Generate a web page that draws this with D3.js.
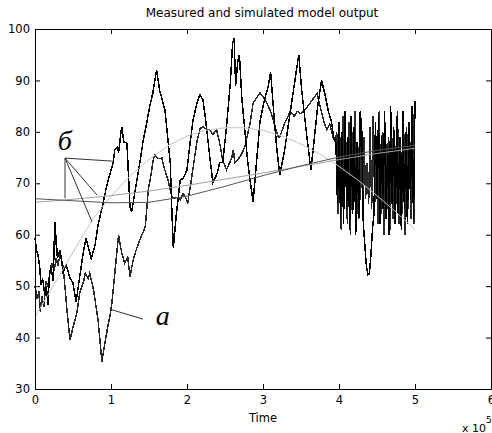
<!DOCTYPE html>
<html>
<head>
<meta charset="utf-8">
<script src="https://cdn.jsdelivr.net/npm/d3@7"></script>
<style>
body { margin: 0; background: #fff; }
</style>
</head>
<body>
<svg id="main" width="492" height="433"></svg>
<script>
// time in units of 1e5

// measured signal, black (big swings)
var measured = [
 [0,59.4],[0.02,57],[0.04,56],[0.06,54],[0.08,50.2],[0.1,51.5],[0.13,48.3],[0.15,50],[0.17,46.3],[0.19,52.2],
 [0.21,53.7],[0.24,51],[0.26,62.5],[0.27,58],[0.28,60],[0.29,56],[0.3,55.7],[0.33,57],[0.35,55],[0.37,52.7],
 [0.41,54.1],[0.46,51.6],[0.5,50.6],[0.54,46.9],[0.59,52],[0.63,56],[0.67,59.3],[0.72,56.6],[0.74,55.4],[0.79,58],
 [0.83,61.9],[0.9,66.4],[0.94,69.3],[0.99,72],[1.03,74.1],[1.05,76.5],[1.08,77],[1.1,76],[1.14,81],[1.17,78],
 [1.21,77.8],[1.25,65.4],[1.27,64.4],[1.3,67],[1.34,70.6],[1.38,74],[1.42,78],[1.47,81.7],[1.51,85],[1.55,87.5],
 [1.6,92],[1.64,88.1],[1.71,84.2],[1.75,78.4],[1.78,74],[1.8,65],[1.82,57.5],[1.86,64],[1.91,70.6],[1.95,71],
 [2.0,72.6],[2.04,77.8],[2.08,82.3],[2.13,85.6],[2.17,87.2],[2.21,86.2],[2.24,82.9],[2.26,80.4],[2.3,75.1],[2.34,70.2],
 [2.4,72],[2.43,74],[2.47,74],[2.52,81],[2.57,89.5],[2.6,97.2],[2.62,98.2],[2.64,89],[2.67,94],[2.69,95],
 [2.72,86.8],[2.76,80.4],[2.8,74],[2.83,70.6],[2.87,66.4],[2.92,75],[2.96,82],[3.01,85.6],[3.07,89],[3.1,91.7],
 [3.14,84],[3.18,77],[3.22,71.6],[3.28,76],[3.33,81],[3.38,86],[3.43,91],[3.47,95],[3.51,88],[3.57,80],
 [3.63,72.6],[3.67,78],[3.72,85],[3.77,90],[3.82,87],[3.86,84],[3.9,82],[3.93,79],
 [3.96,78],[3.98,66],[4.0,82],[4.02,63],[4.04,80],[4.06,62],[4.08,84],[4.1,65],[4.12,79],[4.14,61],
 [4.16,83],[4.18,64],[4.2,81],[4.22,60],[4.24,78],[4.26,63],[4.28,84],[4.3,80],[4.32,62],[4.34,58],
 [4.36,54],[4.38,52.2],[4.4,52.4],[4.42,56],[4.44,61],[4.46,64],[4.48,82],[4.5,67],[4.52,83],[4.54,62],
 [4.56,79],[4.58,65],[4.6,84],[4.62,63],[4.64,77],[4.66,60],[4.68,85],[4.7,66],[4.72,81],[4.74,62],
 [4.76,83],[4.78,64],[4.8,79],[4.82,61],[4.84,84],[4.86,65],[4.88,80],[4.9,62],[4.92,82],[4.94,67],
 [4.96,85],[4.98,63],[5.0,86]
];

// second noisy signal, dark grey (the one marked "а")
var measured2 = [
 [0,50],[0.03,47.5],[0.05,49],[0.07,45],[0.09,48],[0.12,46],[0.14,51],[0.17,50],[0.2,53],[0.22,54.5],
 [0.25,53],[0.28,55.5],[0.3,54],[0.33,56],[0.35,55],[0.37,53.7],[0.39,50.6],[0.42,45.4],[0.46,39.5],[0.5,42],
 [0.55,44.8],[0.59,48.7],[0.64,50.9],[0.66,52.5],[0.7,51.5],[0.72,52.5],[0.77,49.3],[0.83,43.4],[0.88,35.3],[0.91,38],
 [0.95,41.5],[0.99,44.5],[1.01,46.5],[1.04,51],[1.07,55.5],[1.1,60],[1.14,56.5],[1.18,54.5],[1.22,55.7],[1.25,51.8],
 [1.29,55],[1.33,57],[1.38,59],[1.45,61.5],[1.47,64.8],[1.49,68.7],[1.53,72],[1.56,74.9],[1.58,75.5],[1.62,74.8],
 [1.67,74.9],[1.7,73],[1.75,70.6],[1.8,67.5],[1.84,67],[1.87,67.3],[1.91,66.8],[1.95,68],[1.99,67],[2.01,66.2],
 [2.05,70],[2.09,74],[2.13,78],[2.17,80.6],[2.21,81],[2.26,80.5],[2.3,80.4],[2.34,79.5],[2.39,80.4],[2.43,77.8],
 [2.47,74.5],[2.52,72.6],[2.59,75],[2.61,76.5],[2.63,74],[2.67,74.6],[2.71,75.5],[2.76,77],[2.83,81.7],[2.87,85.6],
 [2.96,87.6],[3.03,86.2],[3.07,85],[3.11,83.6],[3.16,81],[3.2,79],[3.22,79],[3.28,81.5],[3.36,84],[3.41,83],
 [3.45,84],[3.5,83.5],[3.58,84.8],[3.64,86],[3.71,87.5],[3.75,85],[3.8,82],[3.84,80.4],[3.88,81.5],[3.92,79],[3.95,78],
 [3.97,80],[3.99,64],[4.01,79],[4.03,61],[4.05,83],[4.07,66],[4.09,78],[4.11,62],[4.13,82],[4.15,60],
 [4.17,80],[4.19,65],[4.21,84],[4.23,61],[4.25,77],[4.27,64],[4.29,82],[4.31,66],[4.33,79],[4.35,67],
 [4.37,74],[4.39,66],[4.41,81],[4.43,65],[4.45,83],[4.47,66],[4.49,78],[4.51,62],[4.53,84],[4.55,64],
 [4.57,80],[4.59,60],[4.61,82],[4.63,65],[4.65,79],[4.67,61],[4.69,83],[4.71,63],[4.73,80],[4.75,66],
 [4.77,84],[4.79,62],[4.81,78],[4.83,64],[4.85,82],[4.87,60],[4.89,81],[4.91,65],[4.93,79],[4.95,63],
 [4.97,84],[4.99,62]
];

// simulated model outputs (smooth)
var simArc = [[0,44],[0.25,50.3],[0.5,56.6],[0.76,63],[1.0,67.5],[1.25,71.4],[1.5,74.6],[1.75,77.3],[2.0,79.2],[2.25,80.3],
 [2.5,80.8],[2.75,80.8],[3.0,80.3],[3.25,79.2],[3.5,77.6],[3.75,75.7],[4.0,73.3],[4.25,70.6],[4.5,67.6],[4.75,64.4],[5.0,61]];
var simDark = [[0,67],[0.5,66.6],[1.0,66.2],[1.5,66.3],[2.0,67.5],[2.5,69.4],[3.0,71.5],[3.5,73.4],[4.0,75.1],[4.5,76.4],[5.0,77.4]];
var simMid = [[0,66.3],[0.5,66.9],[1.0,67.6],[1.5,68.5],[2.0,69.6],[2.5,70.8],[3.0,72],[3.5,73.3],[4.0,74.6],[4.5,75.8],[5.0,76.8]];

var xTicks = [0,1,2,3,4,5,6];
var yTicks = [30,40,50,60,70,80,90,100];

var titleText = "Measured and simulated model output";
var xLabel = "Time";

// annotation anchors (data units)
var labelB = {text: "б", at: [0.30, 76.5], from: [0.395, 74.9],
  to: [[1.026, 74.3], [0.816, 67.7], [0.75, 62.5], [0.395, 67.1]]};
var labelA = {text: "а", at: [1.59, 42.5], from: [1.42, 43.6], to: [[1.013, 45.4]]};

window.onload = function() {
	var svg = d3.select("#main");
	var x = d3.scaleLinear().domain([0, 6]).range([35, 491]);
	var y = d3.scaleLinear().domain([30, 100]).range([389, 29]);
	var sans = "DejaVu Sans, sans-serif";

	svg.append("rect").attr("width", 492).attr("height", 433).attr("fill", "#fff");

	var line = d3.line().x(function(d){ return x(d[0]); }).y(function(d){ return y(d[1]); });

	var addLine = function(data, color, w, crisp) {
		var p = svg.append("path")
			.datum(data)
			.attr("d", line)
			.attr("fill", "none")
			.attr("stroke", color)
			.attr("stroke-width", w);
		if (crisp) p.attr("shape-rendering", "crispEdges");
	};

	addLine(measured2, "#2a2a2a", 1.5, true);
	addLine(measured, "#000", 1.5, true);
	addLine(simMid, "#a0a0a0", 1);
	addLine(simArc, "#c4c4c4", 1);
	addLine(simDark, "#555", 1);

	// axes, ticks pointing in on all four sides
	svg.append("g").attr("transform", "translate(0,389)")
		.call(d3.axisBottom(x).tickValues(xTicks).tickFormat(d3.format("d")).tickSizeInner(-5).tickSizeOuter(0).tickPadding(7));
	svg.append("g").attr("transform", "translate(35,0)")
		.call(d3.axisLeft(y).tickValues(yTicks).tickFormat(d3.format("d")).tickSizeInner(-5).tickSizeOuter(0).tickPadding(5));
	svg.append("g").attr("transform", "translate(0,29)")
		.call(d3.axisTop(x).tickValues(xTicks).tickSizeInner(-5).tickSizeOuter(0).tickFormat(""));
	svg.append("g").attr("transform", "translate(491,0)")
		.call(d3.axisRight(y).tickValues(yTicks).tickSizeInner(-5).tickSizeOuter(0).tickFormat(""));

	svg.selectAll(".domain").attr("stroke", "#000");
	svg.selectAll(".tick line").attr("stroke", "#000");
	svg.selectAll(".tick text").attr("font-family", sans).attr("font-size", 11.5).attr("fill", "#000");

	// title and labels
	svg.append("text").attr("x", 262).attr("y", 17).attr("text-anchor", "middle")
		.attr("font-family", sans).attr("font-size", 12).text(titleText);
	svg.append("text").attr("x", 263).attr("y", 422).attr("text-anchor", "middle")
		.attr("font-family", sans).attr("font-size", 11.5).text(xLabel);
	var ex = svg.append("text").attr("x", 462).attr("y", 432).attr("font-family", sans).attr("font-size", 11);
	ex.append("tspan").text("x 10");
	ex.append("tspan").attr("dy", -9).attr("font-size", 9).text("5");

	// annotations
	[labelB, labelA].forEach(function(lb){
		lb.to.forEach(function(p){
			svg.append("line")
				.attr("x1", x(lb.from[0])).attr("y1", y(lb.from[1]))
				.attr("x2", x(p[0])).attr("y2", y(p[1]))
				.attr("stroke", "#333").attr("stroke-width", 1);
		});
		svg.append("text")
			.attr("x", x(lb.at[0])).attr("y", y(lb.at[1]))
			.style("font-family", "'Liberation Serif', 'DejaVu Serif', serif")
			.style("font-style", "italic")
			.attr("font-size", 28)
			.text(lb.text);
	});
};
</script>
</body>
</html>
